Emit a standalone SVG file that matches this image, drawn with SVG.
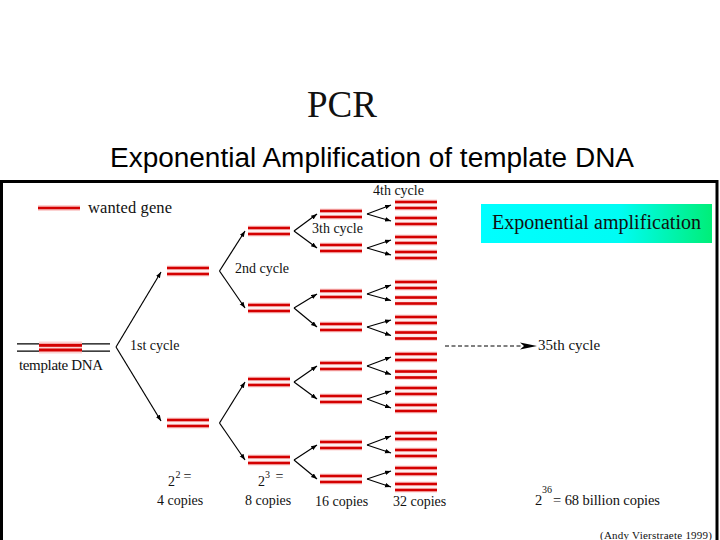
<svg xmlns="http://www.w3.org/2000/svg" xmlns:xlink="http://www.w3.org/1999/xlink" width="720" height="540" viewBox="0 0 720 540">
<style>
.ser{font-family:"Liberation Serif","Times New Roman",serif;fill:#111}
.lbl{font-size:14px}
.conn line{stroke:#000;stroke-width:1.2;marker-end:url(#ah)}
</style>
<defs>
<marker id="ah" markerUnits="userSpaceOnUse" markerWidth="7" markerHeight="6" refX="6" refY="2.3" orient="auto">
<path d="M0,0 L6,2.3 L0,4.6 z" fill="#000"/>
</marker>
<g id="pair">
<rect x="0" y="-5.5" width="42" height="11" fill="#fbd2d2"/>
<rect x="0" y="-1.3" width="42" height="2.6" fill="#fdeeee"/>
<rect x="0" y="-4.3" width="42" height="2.6" fill="#d40000"/>
<rect x="0" y="1.7" width="42" height="2.6" fill="#d40000"/>
</g>
<linearGradient id="cg" x1="0" y1="0" x2="1" y2="0">
<stop offset="0" stop-color="#00ffff"/>
<stop offset="0.6" stop-color="#00fcf4"/>
<stop offset="1" stop-color="#00ee78"/>
</linearGradient>
</defs>
<rect width="720" height="540" fill="#fff"/>
<g id="title">
<text class="ser" x="342" y="117" font-size="37" text-anchor="middle">PCR</text>
</g>
<g id="subtitle">
<text x="110" y="167" font-family="Liberation Sans, Arial, sans-serif" font-size="27" fill="#000" textLength="524" lengthAdjust="spacingAndGlyphs">Exponential Amplification of template DNA</text>
</g>
<rect id="frame" x="1.5" y="181.5" width="715.5" height="400" fill="none" stroke="#000" stroke-width="3"/>
<g id="legend">
<rect x="38" y="205" width="42" height="6" fill="#fbd2d2"/>
<rect x="38" y="206.7" width="42" height="2.6" fill="#d40000"/>
<text class="ser" x="88" y="213" font-size="16.5" textLength="84">wanted gene</text>
</g>
<g id="template">
<line x1="17" y1="343.8" x2="110" y2="343.8" stroke="#000" stroke-width="1.2"/>
<line x1="17" y1="351.2" x2="110" y2="351.2" stroke="#000" stroke-width="1.2"/>
<rect x="39" y="341.5" width="43" height="12" fill="#fbd2d2"/>
<rect x="39" y="343.8" width="43" height="3" fill="#d40000"/>
<rect x="39" y="348.5" width="43" height="3" fill="#d40000"/>
<text class="ser" x="19" y="370" font-size="15" textLength="84">template DNA</text>
</g>
<g id="gen1">
<use xlink:href="#pair" x="167" y="271"/>
<use xlink:href="#pair" x="167" y="423"/>
</g>
<g id="gen2">
<use xlink:href="#pair" x="248" y="231"/>
<use xlink:href="#pair" x="248" y="308"/>
<use xlink:href="#pair" x="248" y="382"/>
<use xlink:href="#pair" x="248" y="460"/>
</g>
<g id="gen3">
<use xlink:href="#pair" x="320" y="214"/>
<use xlink:href="#pair" x="320" y="248"/>
<use xlink:href="#pair" x="320" y="294"/>
<use xlink:href="#pair" x="320" y="327"/>
<use xlink:href="#pair" x="320" y="366"/>
<use xlink:href="#pair" x="320" y="399"/>
<use xlink:href="#pair" x="320" y="445"/>
<use xlink:href="#pair" x="320" y="479"/>
</g>
<g id="gen4">
<use xlink:href="#pair" x="395" y="205"/>
<use xlink:href="#pair" x="395" y="221"/>
<use xlink:href="#pair" x="395" y="240"/>
<use xlink:href="#pair" x="395" y="255"/>
<use xlink:href="#pair" x="395" y="285"/>
<use xlink:href="#pair" x="395" y="300.5"/>
<use xlink:href="#pair" x="395" y="320"/>
<use xlink:href="#pair" x="395" y="335.5"/>
<use xlink:href="#pair" x="395" y="357"/>
<use xlink:href="#pair" x="395" y="374.5"/>
<use xlink:href="#pair" x="395" y="391"/>
<use xlink:href="#pair" x="395" y="408"/>
<use xlink:href="#pair" x="395" y="436"/>
<use xlink:href="#pair" x="395" y="453"/>
<use xlink:href="#pair" x="395" y="471"/>
<use xlink:href="#pair" x="395" y="487"/>
</g>
<g id="connectors" class="conn">
<line x1="116" y1="347" x2="161" y2="272"/>
<line x1="116" y1="347" x2="161" y2="421"/>
<line x1="219.5" y1="271" x2="245" y2="231"/>
<line x1="219.5" y1="271" x2="245" y2="308"/>
<line x1="219.5" y1="423" x2="245" y2="382"/>
<line x1="219.5" y1="423" x2="245" y2="460"/>
<line x1="294" y1="231" x2="317" y2="214"/>
<line x1="294" y1="231" x2="317" y2="248"/>
<line x1="294" y1="308" x2="317" y2="294"/>
<line x1="294" y1="308" x2="317" y2="327"/>
<line x1="294" y1="382" x2="317" y2="366"/>
<line x1="294" y1="382" x2="317" y2="399"/>
<line x1="294" y1="460" x2="317" y2="445"/>
<line x1="294" y1="460" x2="317" y2="479"/>
<line x1="367" y1="214" x2="391" y2="205"/>
<line x1="367" y1="214" x2="391" y2="221"/>
<line x1="367" y1="248" x2="391" y2="240"/>
<line x1="367" y1="248" x2="391" y2="255"/>
<line x1="367" y1="294" x2="391" y2="285"/>
<line x1="367" y1="294" x2="391" y2="300.5"/>
<line x1="367" y1="327" x2="391" y2="320"/>
<line x1="367" y1="327" x2="391" y2="335.5"/>
<line x1="367" y1="366" x2="391" y2="357"/>
<line x1="367" y1="366" x2="391" y2="374.5"/>
<line x1="367" y1="399" x2="391" y2="391"/>
<line x1="367" y1="399" x2="391" y2="408"/>
<line x1="367" y1="445" x2="391" y2="436"/>
<line x1="367" y1="445" x2="391" y2="453"/>
<line x1="367" y1="479" x2="391" y2="471"/>
<line x1="367" y1="479" x2="391" y2="487"/>
<path d="M445,346 L522,346" stroke="#000" stroke-width="1" stroke-dasharray="4,2.5" fill="none"/>
<path d="M520,342.5 L537,346 L520,349.5 L524,346 z" fill="#000"/>
</g>
<g id="labels">
<text class="ser lbl" x="130" y="350">1st cycle</text>
<text class="ser lbl" x="235" y="273">2nd cycle</text>
<text class="ser lbl" x="312" y="233">3th cycle</text>
<text class="ser lbl" x="373" y="195">4th cycle</text>
<text class="ser" x="538" y="350" font-size="15">35th cycle</text>
<text class="ser lbl" x="168" y="486">2</text>
<text class="ser" x="175.5" y="478" font-size="10">2</text>
<text class="ser lbl" x="183.5" y="481">=</text>
<text class="ser lbl" x="157" y="505">4 copies</text>
<text class="ser lbl" x="258" y="486">2</text>
<text class="ser" x="265" y="478" font-size="10">3</text>
<text class="ser lbl" x="275.5" y="481">=</text>
<text class="ser lbl" x="245" y="505">8 copies</text>
<text class="ser lbl" x="315" y="506">16 copies</text>
<text class="ser lbl" x="393" y="506">32 copies</text>
<text class="ser" x="535" y="505" font-size="14.5">2</text>
<text class="ser" x="542" y="493" font-size="10">36</text>
<text class="ser" x="553" y="505" font-size="14.5" textLength="107">= 68 billion copies</text>
<text class="ser" x="600" y="539" font-size="11" textLength="112">(Andy Vierstraete 1999)</text>
</g>
<g id="callout">
<rect x="481" y="204" width="231" height="39" fill="url(#cg)"/>
<text class="ser" x="492" y="228.5" font-size="20" fill="#1a2a2a" textLength="209">Exponential amplification</text>
</g>
</svg>
